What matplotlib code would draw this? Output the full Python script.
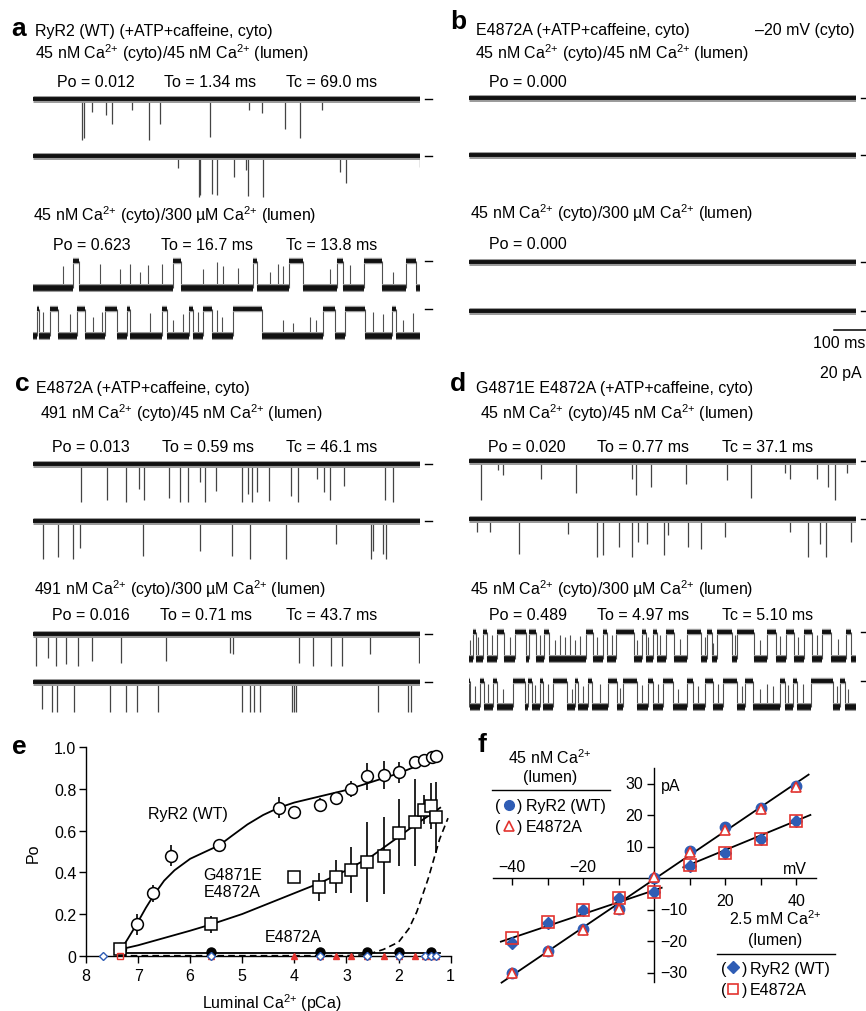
import matplotlib
matplotlib.use('Agg')
import matplotlib.pyplot as plt

plt.rcParams['font.family'] = ['Liberation Sans', 'DejaVu Sans']
plt.rcParams['mathtext.fontset'] = 'custom'
plt.rcParams['mathtext.rm'] = 'Liberation Sans'
plt.rcParams['mathtext.it'] = 'Liberation Sans:italic'
plt.rcParams['mathtext.bf'] = 'Liberation Sans:bold'

W, H = 866, 1012
FS = 11.5

# ---------------- single-channel trace events (time ms, depth fraction) ----------------
a1_spikes = [(151, 1.0), (157, 0.95), (182, 0.31), (226, 0.39), (244, 0.61), (306, 0.27), (359, 1.0),
             (394, 0.61), (549, 0.92), (670, 0.27), (709, 0.33), (781, 0.72), (828, 0.96), (895, 0.27)]
a2_spikes = [(451, 0.3), (515, 1.0), (518, 0.95), (554, 0.93), (571, 0.95), (623, 0.5), (662, 0.35),
             (668, 0.97), (714, 1.0), (952, 0.38), (972, 0.67), (1199, 0.26)]
a3_closed = [(125, 144), (433, 458), (682, 694), (794, 837), (942, 961), (1026, 1081), (1158, 1189)]
a3_flick = [(94, 0.8), (208, 0.9), (270, 0.7), (301, 0.9), (332, 0.6), (358, 0.85), (399, 0.9), (528, 0.7),
            (569, 0.95), (590, 0.8), (637, 0.75), (735, 0.6), (761, 0.9), (776, 0.8), (921, 0.7),
            (983, 0.85), (1117, 0.6)]
a4_closed = [(13, 20), (53, 78), (135, 161), (223, 261), (290, 301), (399, 414), (485, 497), (528, 554),
             (621, 709), (900, 936), (967, 1029), (1112, 1127)]
a4_flick = [(32, 0.9), (115, 0.8), (187, 0.7), (213, 0.9), (363, 0.85), (435, 0.6), (466, 0.8), (513, 0.9),
            (569, 0.95), (585, 0.7), (776, 0.6), (807, 0.5), (859, 0.7), (879, 0.6), (1055, 0.9),
            (1086, 0.8), (1148, 0.6), (1179, 0.85)]

c1_spikes = [(149, 1.0), (230, 0.96), (287, 1.0), (330, 0.65), (345, 0.96), (423, 0.9), (456, 1.0),
             (482, 1.0), (518, 0.48), (533, 1.0), (567, 0.7), (649, 1.0), (667, 0.78), (680, 1.0),
             (695, 0.74), (733, 0.98), (799, 0.83), (821, 1.0), (881, 0.39), (902, 0.74), (921, 0.96),
             (965, 0.57), (1093, 0.96), (1115, 1.0)]
c2_spikes = [(32, 1.0), (78, 0.96), (125, 1.0), (146, 0.7), (340, 0.91), (518, 0.78), (618, 0.91),
             (673, 1.0), (783, 1.0), (939, 0.6), (1048, 1.0), (1055, 0.78), (1084, 0.87), (1096, 1.0)]
c3_spikes = [(9, 1.0), (47, 0.74), (71, 1.0), (102, 0.95), (141, 1.0), (184, 0.84), (272, 0.9),
             (411, 0.84), (611, 0.58), (621, 0.63), (826, 0.9), (867, 1.0), (924, 1.0), (957, 1.0),
             (1045, 0.63), (1198, 0.9)]
c4_spikes = [(27, 0.9), (58, 1.0), (75, 1.0), (127, 1.0), (239, 1.0), (287, 1.0), (321, 1.0), (388, 1.0),
             (647, 1.0), (673, 1.0), (685, 1.0), (704, 1.0), (802, 1.0), (810, 1.0), (817, 1.0),
             (1070, 1.0), (1163, 1.0), (1172, 1.0)]

d1_spikes = [(36, 1.0), (91, 0.24), (106, 0.36), (223, 0.45), (331, 0.83), (504, 0.45), (518, 0.87),
             (564, 0.66), (672, 0.58), (799, 0.49), (873, 0.96), (980, 0.32), (995, 0.45), (1078, 0.45),
             (1112, 0.66), (1135, 1.0), (1173, 0.32)]
d2_spikes = [(24, 0.35), (65, 0.35), (156, 0.91), (308, 0.39), (396, 1.0), (416, 0.96), (465, 0.74),
             (504, 1.0), (523, 0.61), (551, 0.65), (605, 0.96), (618, 0.43), (678, 0.74), (719, 0.78),
             (794, 0.48), (995, 0.35), (1050, 1.0), (1088, 0.65), (1106, 1.0), (1183, 0.61)]
d3_closed = [(11, 22), (42, 55), (88, 108), (143, 177), (187, 208), (232, 249), (363, 383), (414, 429),
             (456, 512), (535, 549), (569, 584), (611, 636), (675, 718), (739, 753), (770, 817),
             (832, 884), (925, 952), (983, 1008), (1039, 1065), (1096, 1121), (1169, 1183)]
d3_flick = [(2, 0.7), (29, 0.8), (70, 0.9), (127, 0.8), (220, 0.9), (267, 0.7), (282, 0.9), (298, 0.8),
            (313, 0.9), (329, 0.7), (344, 0.85), (396, 0.8), (442, 0.9), (520, 0.7), (556, 0.8),
            (592, 0.9), (654, 0.75), (731, 0.8), (757, 0.6), (825, 0.9), (902, 0.7), (964, 0.85),
            (1021, 0.8), (1078, 0.9), (1145, 0.75)]
d4_closed = [(0, 3), (34, 46), (75, 86), (137, 174), (184, 194), (220, 230), (261, 305), (329, 339),
             (370, 380), (432, 458), (478, 520), (556, 571), (602, 633), (675, 695), (732, 757),
             (788, 830), (856, 881), (964, 980), (1005, 1016), (1062, 1129), (1150, 1166)]
d4_flick = [(18, 0.8), (60, 0.9), (106, 0.7), (205, 0.85), (246, 0.9), (318, 0.7), (354, 0.8), (406, 0.9),
            (468, 0.75), (535, 0.85), (587, 0.9), (649, 0.7), (711, 0.8), (773, 0.9), (845, 0.8),
            (902, 0.7), (923, 0.9), (943, 0.8), (990, 0.85), (1036, 0.9), (1140, 0.8), (1176, 0.7)]

# ---------------- panel e ----------------
pca_ticks = [8, 7, 6, 5, 4, 3, 2, 1]
po_ticks = [0, 0.2, 0.4, 0.6, 0.8, 1.0]
po_ticklabels = ['0', '0.2', '0.4', '0.6', '0.8', '1.0']
wt_pca = [7.35, 7.03, 6.71, 6.36, 5.44, 4.29, 4.0, 3.51, 3.2, 2.92, 2.6, 2.28, 1.99, 1.69, 1.51, 1.36, 1.28]
wt_po = [0.03, 0.15, 0.30, 0.48, 0.53, 0.71, 0.69, 0.725, 0.755, 0.80, 0.86, 0.865, 0.88, 0.93, 0.94, 0.955, 0.96]
wt_err = [0, 0.05, 0.04, 0.05, 0.03, 0.05, 0, 0.03, 0.03, 0.04, 0.067, 0.067, 0.05, 0, 0, 0, 0]
dm_pca = [7.35, 5.6, 4.0, 3.52, 3.2, 2.92, 2.6, 2.28, 1.99, 1.69, 1.51, 1.38, 1.28]
dm_po = [0.03, 0.15, 0.38, 0.33, 0.38, 0.41, 0.45, 0.48, 0.59, 0.64, 0.70, 0.72, 0.665]
dm_err = [0, 0.04, 0, 0.066, 0.08, 0.11, 0.19, 0.185, 0.16, 0.21, 0.07, 0.11, 0.17]
ea_pca = [5.6, 3.51, 2.6, 1.99, 1.38]
ea_po = [0.018, 0.02, 0.02, 0.02, 0.02]
dia_pca = [7.67, 5.6, 3.51, 2.6, 1.99, 1.5, 1.38, 1.28]
dia_po = [0, 0, 0, 0, 0, 0, 0, 0]
tri_pca = [5.6, 4.0, 3.51, 3.2, 2.92, 2.6, 2.28, 1.99, 1.69, 1.5, 1.38, 1.28]
tri_po = [0, 0, 0, 0, 0, 0, 0, 0, 0, 0, 0, 0]
rsq_pca = [7.35]
rsq_po = [0]
wt_fit_pca = [7.35, 7.2, 7.03, 6.85, 6.7, 6.5, 6.3, 6.0, 5.7, 5.44, 5.2, 4.9, 4.6, 4.3, 4.0, 3.5, 3.0, 2.5, 2.0, 1.6, 1.2]
wt_fit_po = [0.02, 0.08, 0.15, 0.23, 0.29, 0.36, 0.41, 0.465, 0.50, 0.53, 0.575, 0.63, 0.675, 0.71, 0.735,
             0.765, 0.795, 0.835, 0.875, 0.915, 0.955]
dm_fit_pca = [7.35, 7.0, 6.5, 6.0, 5.6, 5.0, 4.5, 4.0, 3.5, 3.0, 2.5, 2.0, 1.7, 1.4, 1.2]
dm_fit_po = [0.03, 0.05, 0.085, 0.12, 0.15, 0.20, 0.25, 0.30, 0.35, 0.41, 0.48, 0.57, 0.625, 0.675, 0.71]
ea_fit_pca = [7.35, 1.2]
ea_fit_po = [0.012, 0.012]
dash_fit_pca = [7.35, 3.0, 2.6, 2.29, 2.0, 1.8, 1.65, 1.43, 1.21, 1.05]
dash_fit_po = [0.0, 0.0, 0.005, 0.03, 0.065, 0.13, 0.21, 0.37, 0.56, 0.66]

# ---------------- panel f ----------------
mv = [-40, -30, -20, -10, 0, 10, 20, 30, 40]
wt45_pa = [-30.2, -23.0, -16.1, -9.8, 0.0, 8.8, 16.2, 22.3, 29.3]
ea45_pa = [-30.0, -23.0, -16.3, -9.8, 0.3, 8.2, 15.2, 22.0, 28.9]
wt25_pa = [-20.6, -14.2, -10.2, -6.4, -4.2, 4.0, 8.1, 12.5, 18.3]
ea25_pa = [-19.0, -13.8, -10.0, -6.2, -4.2, 4.3, 8.1, 12.5, 18.3]
steep_fit_mv = [-43.0, 43.5]
steep_fit_pa = [-33.1, 32.9]
shal_neg_mv = [-43.2, 2.1]
shal_neg_pa = [-20.1, -3.0]
shal_pos_mv = [8.2, 44.0]
shal_pos_pa = [3.5, 20.1]
mv_ticks = [-40, -30, -20, -10, 10, 20, 30, 40]
pa_ticks = [-30, -20, -10, 10, 20, 30]

BLUE = '#2F5DB5'
RED = '#E3342F'

fig = plt.figure(figsize=(W / 100, H / 100), dpi=100)
ov = fig.add_axes([0, 0, 1, 1])
ov.set_xlim(0, W)
ov.set_ylim(H, 0)
ov.axis('off')


def box(x0, y0, x1, y1):
    return fig.add_axes([x0 / W, 1 - y1 / H, (x1 - x0) / W, (y1 - y0) / H])


def T(x, yc, s, size=FS, **kw):
    ov.text(x, yc + 5.5, s, fontsize=size, va='baseline', **kw)


def L(x, yc, s):
    ov.text(x, yc, s, fontsize=19, fontweight='bold', va='center', ha='left')


def trace_axes(x0, yb, amp, dash_end):
    ax = box(x0, yb - 0.3 * amp, x0 + 387, yb + 1.3 * amp)
    ax.set_xlim(0, 1200)
    ax.set_ylim(-1.3, 0.3)
    ax.axis('off')
    ax.plot([1215, dash_end], [0, 0], color='black', lw=1.0, clip_on=False)
    return ax


def spike_trace(x0, yb, amp, spikes, dash_end=1236):
    ax = trace_axes(x0, yb, amp, dash_end)
    for t, f in spikes:
        ax.vlines(t, 0, -f, color='#444444', lw=0.9)
    ax.hlines(0, 0, 1200, color='#9a9a9a', lw=5.0)
    ax.hlines(0, 0, 1200, color='#111111', lw=2.8)


def gating_trace(x0, yb, amp, closed, flick, dash_end=1236):
    ax = trace_axes(x0, yb, amp, dash_end)
    segs = []
    t = 0
    for c0, c1 in closed:
        if c0 > t:
            segs.append((t, c0, -1))
        segs.append((c0, c1, 0))
        t = c1
    if t < 1200:
        segs.append((t, 1200, -1))
    for c0, c1 in closed:
        ax.vlines([c0, c1], -1, 0, color='#505050', lw=0.8)
    for tt, f in flick:
        ax.vlines(tt, -1, -1 + f, color='#505050', lw=0.8)
    for a, b, lev in segs:
        w = 2.8 if lev == 0 else 4.0
        ax.hlines(lev, a, b, color='#9a9a9a', lw=w + 1.8)
        ax.hlines(lev, a, b, color='#111111', lw=w)


CA = 'Ca$^{\\text{2+}}$'

# ---------------- panel a ----------------
L(11, 29, 'a')
T(35, 30, 'RyR2 (WT) (+ATP+caffeine, cyto)')
T(35, 53, '45 nM ' + CA + ' (cyto)/45 nM ' + CA + ' (lumen)')
T(57, 81, 'Po = 0.012')
T(164, 81, 'To = 1.34 ms')
T(286, 81, 'Tc = 69.0 ms')
spike_trace(33, 100, 41, a1_spikes)
spike_trace(33, 157, 41, a2_spikes)
T(33, 215, '45 nM ' + CA + ' (cyto)/300 µM ' + CA + ' (lumen)')
T(53, 244, 'Po = 0.623')
T(161, 244, 'To = 16.7 ms')
T(286, 244, 'Tc = 13.8 ms')
gating_trace(33, 262, 27, a3_closed, a3_flick)
gating_trace(33, 310, 27, a4_closed, a4_flick)

# ---------------- panel b ----------------
L(450, 22, 'b')
T(476, 29, 'E4872A (+ATP+caffeine, cyto)')
T(855, 29, '–20 mV (cyto)', ha='right')
T(475, 53, '45 nM ' + CA + ' (cyto)/45 nM ' + CA + ' (lumen)')
T(489, 81, 'Po = 0.000')
spike_trace(469, 99, 40, [], dash_end=1250)
spike_trace(469, 156, 40, [], dash_end=1250)
T(470, 213, '45 nM ' + CA + ' (cyto)/300 µM ' + CA + ' (lumen)')
T(489, 243, 'Po = 0.000')
spike_trace(469, 263, 27, [], dash_end=1250)
spike_trace(469, 312, 27, [], dash_end=1250)
ov.plot([834, 866], [331, 331], color='black', lw=1.1)
T(865, 342, '100 ms', ha='right')
T(862, 372, '20 pA', ha='right')

# ---------------- panel c ----------------
L(15, 384, 'c')
T(36, 387, 'E4872A (+ATP+caffeine, cyto)')
T(40, 414, '491 nM ' + CA + ' (cyto)/45 nM ' + CA + ' (lumen)')
T(52, 446, 'Po = 0.013')
T(162, 446, 'To = 0.59 ms')
T(286, 446, 'Tc = 46.1 ms')
spike_trace(33, 465, 38, c1_spikes)
spike_trace(33, 522, 38, c2_spikes)
T(34, 590, '491 nM ' + CA + ' (cyto)/300 µM ' + CA + ' (lumen)')
T(52, 615, 'Po = 0.016')
T(160, 615, 'To = 0.71 ms')
T(286, 615, 'Tc = 43.7 ms')
spike_trace(33, 635, 32, c3_spikes)
spike_trace(33, 683, 30, c4_spikes)

# ---------------- panel d ----------------
L(450, 384, 'd')
T(476, 387, 'G4871E E4872A (+ATP+caffeine, cyto)')
T(480, 414, '45 nM ' + CA + ' (cyto)/45 nM ' + CA + ' (lumen)')
T(488, 446, 'Po = 0.020')
T(597, 446, 'To = 0.77 ms')
T(722, 446, 'Tc = 37.1 ms')
spike_trace(469, 462, 39, d1_spikes, dash_end=1250)
spike_trace(469, 520, 38, d2_spikes, dash_end=1250)
T(470, 590, '45 nM ' + CA + ' (cyto)/300 µM ' + CA + ' (lumen)')
T(489, 615, 'Po = 0.489')
T(597, 615, 'To = 4.97 ms')
T(722, 615, 'Tc = 5.10 ms')
gating_trace(469, 633, 27, d3_closed, d3_flick, dash_end=1250)
gating_trace(469, 682, 26, d4_closed, d4_flick, dash_end=1250)

# ---------------- panel e ----------------
L(12, 747, 'e')
ae = box(86, 748.3, 450.6, 956.7)
ae.set_xlim(8, 1)
ae.set_ylim(0, 1)
ae.patch.set_alpha(0)
for s in ['top', 'right']:
    ae.spines[s].set_visible(False)
for s in ['left', 'bottom']:
    ae.spines[s].set_linewidth(1.0)
ae.set_xticks(pca_ticks)
ae.set_xticklabels([str(v) for v in pca_ticks])
ae.set_yticks(po_ticks)
ae.set_yticklabels(po_ticklabels)
ae.tick_params(direction='out', length=5, width=1.0, labelsize=FS)
ae.tick_params(axis='x', pad=3.5)
ae.tick_params(axis='y', pad=2)
ae.plot(dash_fit_pca, dash_fit_po, color='black', lw=1.2, ls=(0, (4, 2.5)), clip_on=False)
ae.plot(ea_fit_pca, ea_fit_po, color='black', lw=1.3, clip_on=False)
ae.plot(wt_fit_pca, wt_fit_po, color='black', lw=1.3)
ae.plot(dm_fit_pca, dm_fit_po, color='black', lw=1.3)
ae.errorbar(wt_pca, wt_po, yerr=wt_err, fmt='none', ecolor='black', elinewidth=1.2, capsize=0)
ae.errorbar(dm_pca, dm_po, yerr=dm_err, fmt='none', ecolor='black', elinewidth=1.2, capsize=0)
ae.plot(wt_pca, wt_po, 'o', ms=8.5, mfc='white', mec='black', mew=1.1, clip_on=False)
ae.plot(dm_pca, dm_po, 's', ms=8, mfc='white', mec='black', mew=1.1, clip_on=False)
ae.plot(ea_pca, ea_po, 'o', ms=6.5, mfc='black', mec='black', clip_on=False, zorder=4)
ae.plot(rsq_pca, rsq_po, 's', ms=5, mfc='none', mec=RED, mew=1.0, clip_on=False, zorder=4)
ae.plot(tri_pca, tri_po, '^', ms=5, mfc=RED, mec=RED, clip_on=False, zorder=5)
ae.plot(dia_pca, dia_po, 'D', ms=4.5, mfc='white', mec=BLUE, mew=1.0, clip_on=False, zorder=6)
ae.text(6.04, 0.68, 'RyR2 (WT)', fontsize=FS, ha='center', va='center')
ae.text(5.74, 0.35, 'G4871E\nE4872A', fontsize=FS, ha='left', va='center', linespacing=1.15)
ae.text(4.56, 0.09, 'E4872A', fontsize=FS, ha='left', va='center')
ov.text(33, 853, 'Po', fontsize=FS, rotation=90, ha='center', va='center')
T(272, 1003.5, 'Luminal ' + CA + ' (pCa)', ha='center')

# ---------------- panel f ----------------
L(477, 745, 'f')
af = box(492.7, 769, 815.7, 983)
af.set_xlim(-45.5, 45.5)
af.set_ylim(-32.9, 35)
af.patch.set_alpha(0)
for s in ['top', 'right']:
    af.spines[s].set_visible(False)
af.spines['left'].set_position(('data', 0))
af.spines['bottom'].set_position(('data', 0))
af.spines['left'].set_linewidth(1.0)
af.spines['bottom'].set_linewidth(1.0)
af.set_xticks(mv_ticks)
af.set_xticklabels([''] * len(mv_ticks))
af.set_yticks(pa_ticks)
af.set_yticklabels([''] * len(pa_ticks))
af.tick_params(direction='out', length=5, width=1.0)
for v in [-40, -20]:
    af.text(v, 3.6, '−%d' % abs(v), fontsize=FS, ha='center', va='center')
for v in [20, 40]:
    af.text(v, -6.9, '%d' % v, fontsize=FS, ha='center', va='center')
for v in [10, 20, 30]:
    af.text(-3.1, v, '%d' % v, fontsize=FS, ha='right', va='center')
for v in [-10, -20, -30]:
    af.text(1.6, v, '−%d' % abs(v), fontsize=FS, ha='left', va='center')
af.text(39.6, 3.0, 'mV', fontsize=FS, ha='center', va='center')
af.text(1.8, 29.6, 'pA', fontsize=FS, ha='left', va='center')
af.plot(steep_fit_mv, steep_fit_pa, color='black', lw=1.3, clip_on=False)
af.plot(shal_neg_mv, shal_neg_pa, color='black', lw=1.3, clip_on=False)
af.plot(shal_pos_mv, shal_pos_pa, color='black', lw=1.3, clip_on=False)
af.plot(mv, wt45_pa, 'o', ms=7.5, mfc=BLUE, mec=BLUE, clip_on=False, zorder=4)
af.plot(mv, ea45_pa, '^', ms=7.5, mfc='white', mec=RED, mew=1.2, clip_on=False, zorder=5)
af.plot(mv, wt25_pa, 'D', ms=6, mfc=BLUE, mec=BLUE, clip_on=False, zorder=4)
af.plot(mv, ea25_pa, 's', ms=8, mfc='none', mec=RED, mew=1.2, clip_on=False, zorder=5)

# legends for f
T(550, 758, '45 nM ' + CA, ha='center')
T(550, 777, '(lumen)', ha='center')
ov.plot([491.7, 610], [790.7, 790.7], color='black', lw=1.0)
for yc, mk, kw, lab in [(806, 'o', dict(mfc=BLUE, mec=BLUE, ms=7), 'RyR2 (WT)'),
                        (826.7, '^', dict(mfc='white', mec=RED, mew=1.2, ms=7.5), 'E4872A')]:
    T(495, yc, '(')
    ov.plot([509], [yc], mk, **kw)
    T(517, yc, ')')
    T(526, yc, lab)
T(775, 920, '2.5 mM ' + CA, ha='center')
T(775, 940, '(lumen)', ha='center')
ov.plot([716.7, 835], [955, 955], color='black', lw=1.0)
for yc, mk, kw, lab in [(968.3, 'D', dict(mfc=BLUE, mec=BLUE, ms=6.5), 'RyR2 (WT)'),
                        (990, 's', dict(mfc='white', mec=RED, mew=1.2, ms=7.5), 'E4872A')]:
    T(721.5, yc, '(')
    ov.plot([733.3], [yc], mk, **kw)
    T(741.5, yc, ')')
    T(750, yc, lab)

fig.savefig('out.png', dpi=100)
